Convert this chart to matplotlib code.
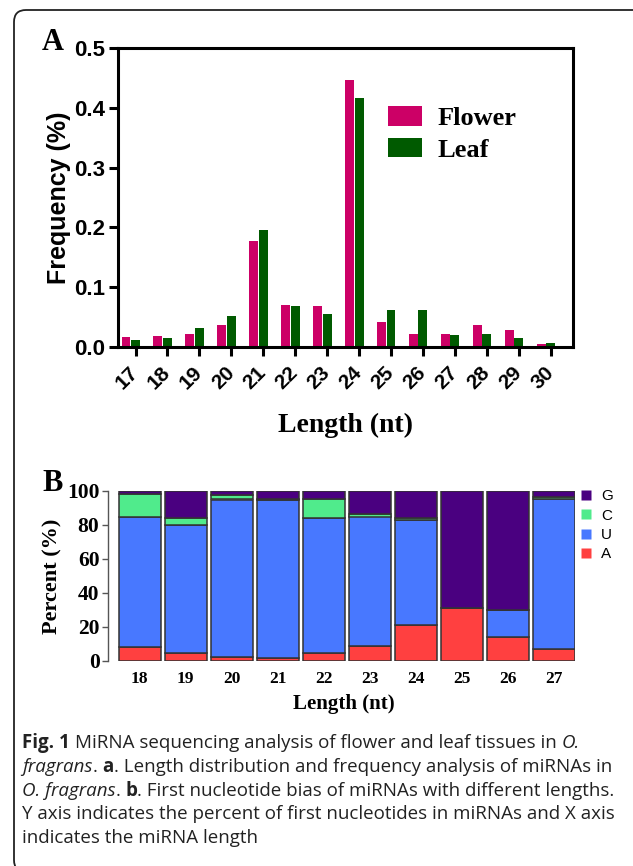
import matplotlib
matplotlib.use('Agg')
import matplotlib.pyplot as plt
import numpy as np
from matplotlib.patches import FancyBboxPatch
from matplotlib.lines import Line2D
from matplotlib.transforms import IdentityTransform

# Panel A: length distribution
lengths_a = ['17', '18', '19', '20', '21', '22', '23', '24', '25', '26', '27', '28', '29', '30']
flower = [0.016, 0.019, 0.021, 0.037, 0.178, 0.070, 0.069, 0.446, 0.042, 0.022, 0.022, 0.036, 0.028, 0.005]
leaf = [0.011, 0.0145, 0.032, 0.0525, 0.1955, 0.069, 0.056, 0.416, 0.0615, 0.0625, 0.0196, 0.022, 0.015, 0.007]

# Panel B: first nucleotide bias (%)
lengths_b = ['18', '19', '20', '21', '22', '23', '24', '25', '26', '27']
pct_A = [8, 5, 2.5, 1.5, 5, 9, 21, 31, 14, 7]
pct_U = [76.5, 75, 92.5, 93, 79, 76, 62, 0, 16, 88.5]
pct_C = [13.5, 4, 2.5, 0.8, 11, 1.5, 1, 0, 0, 1]
pct_G = [2, 16, 2.5, 4.7, 5, 13.5, 16, 69, 70, 3.5]

W, H = 633, 866
fig = plt.figure(figsize=(W / 100, H / 100), dpi=100)

def px_axes(l, t, r, b):
    return fig.add_axes([l / W, 1 - b / H, (r - l) / W, (b - t) / H])

sans = 'Liberation Sans'
serif = 'Liberation Serif'

# ---------- Panel A ----------
axA = px_axes(118, 48, 573, 347)
x = np.arange(len(lengths_a))
axA.bar(x - 0.3, flower, width=0.28, color='#CC0066', label='Flower')
axA.bar(x, leaf, width=0.28, color='#005A00', label='Leaf')
axA.set_xlim(-0.55, 13.7)
axA.set_ylim(0, 0.5)
for s in axA.spines.values():
    s.set_linewidth(2.2)
axA.tick_params(axis='both', direction='out', length=6.5, width=2.2, pad=3)
axA.tick_params(axis='x', pad=10)
axA.set_yticks([0, 0.1, 0.2, 0.3, 0.4, 0.5])
axA.set_yticklabels(['0.0', '0.1', '0.2', '0.3', '0.4', '0.5'], fontfamily=sans,
                    fontweight='bold', fontsize=16)
axA.set_xticks(x)
axA.set_xticklabels(lengths_a, fontfamily=sans, fontweight='bold', fontsize=15,
                    rotation=45, ha='right', va='center', rotation_mode='anchor')
axA.set_ylabel('Frequency (%)', fontfamily=sans, fontweight='bold', fontsize=18, labelpad=2)
axA.set_xlabel('Length (nt)', fontfamily=serif, fontweight='bold', fontsize=20, labelpad=14)
axA.legend(loc='upper left', bbox_to_anchor=(0.593, 0.805), frameon=False,
           prop={'family': serif, 'weight': 'bold', 'size': 19},
           handlelength=1.3, handleheight=0.75, handletextpad=0.6,
           labelspacing=0.3, borderpad=0, borderaxespad=0)

# ---------- Panel B ----------
axB = px_axes(112, 491, 575, 661)
xb = np.arange(len(lengths_b))
colors = {'A': '#FF4040', 'U': '#4878FF', 'C': '#50EB8C', 'G': '#4A0080'}
bottom = np.zeros(len(lengths_b))
for key, vals in [('A', pct_A), ('U', pct_U), ('C', pct_C), ('G', pct_G)]:
    axB.bar(xb, vals, bottom=bottom, width=0.91, color=colors[key],
            edgecolor='#333333', linewidth=1.1)
    bottom += np.array(vals)
axB.set_xlim(-0.6, 9.46)
axB.set_ylim(0, 100)
for k in ['top', 'right', 'bottom']:
    axB.spines[k].set_visible(False)
axB.spines['left'].set_position(('outward', 3))
axB.spines['left'].set_color('#555555')
axB.spines['left'].set_linewidth(1.0)
axB.tick_params(axis='y', length=4, width=1.0, color='#555555', pad=2)
axB.tick_params(axis='x', length=0, pad=7)
axB.set_yticks([0, 20, 40, 60, 80, 100])
axB.set_yticklabels(['0', '20', '40', '60', '80', '100'], fontfamily=serif,
                    fontweight='bold', fontsize=15.5)
axB.set_xticks(xb)
axB.set_xticklabels(lengths_b, fontfamily=serif, fontweight='bold', fontsize=12.5)
axB.set_ylabel('Percent (%)', fontfamily=serif, fontweight='bold', fontsize=16, labelpad=3)
axB.set_xlabel('Length (nt)', fontfamily=serif, fontweight='bold', fontsize=15, labelpad=5)
handles = [Line2D([], [], marker='s', linestyle='none', markersize=7,
                  markerfacecolor=colors[k], markeredgecolor='none', label=k)
           for k in ['G', 'C', 'U', 'A']]
axB.legend(handles=handles, loc='upper left', bbox_to_anchor=(1.01, 1.01), frameon=False,
           prop={'family': sans, 'size': 11}, handlelength=0.8, handletextpad=0.6,
           labelspacing=0.35, borderpad=0, borderaxespad=0)

# panel letters
fig.text(42 / W, 1 - 50 / H, 'A', fontfamily=serif, fontweight='bold', fontsize=22)
fig.text(42 / W, 1 - 491 / H, 'B', fontfamily=serif, fontweight='bold', fontsize=22)

# caption, drawn piece by piece so bold / italic runs sit inline
cap_font = 'Open Sans'
cap_size = 13.5
styles = {'n': {}, 'b': {'fontweight': 'bold'}, 'i': {'fontstyle': 'italic'}}
caption = [
    [('Fig. 1', 'b'), (' MiRNA sequencing analysis of flower and leaf tissues in', 'n'), (' O.', 'i')],
    [('fragrans', 'i'), ('.', 'n'), (' a', 'b'), ('. Length distribution and frequency analysis of miRNAs in', 'n')],
    [('O. fragrans', 'i'), ('.', 'n'), (' b', 'b'), ('. First nucleotide bias of miRNAs with different lengths.', 'n')],
    [('Y axis indicates the percent of first nucleotides in miRNAs and X axis', 'n')],
    [('indicates the miRNA length', 'n')],
]
renderer = fig.canvas.get_renderer()

def text_w(s, st):
    t = fig.text(0, 0, s, fontfamily=cap_font, fontsize=cap_size, **styles[st])
    w = t.get_window_extent(renderer).width
    t.remove()
    return w

space_w = text_w('a a', 'n') - text_w('aa', 'n')
for i, line in enumerate(caption):
    xpos = 22
    ypos = H - (748 + 23.8 * i)
    for seg, st in line:
        n = len(seg) - len(seg.lstrip(' '))
        xpos += n * space_w
        seg = seg.lstrip(' ')
        fig.text(xpos, ypos, seg, transform=IdentityTransform(), fontfamily=cap_font,
                 fontsize=cap_size, color='#222222', va='baseline', **styles[st])
        xpos += text_w(seg, st)

# frame
frame = FancyBboxPatch((14, -6), 660, H - 10 + 6, boxstyle='round,pad=0,rounding_size=12',
                       transform=IdentityTransform(), facecolor='none',
                       edgecolor='#222222', linewidth=1.3)
fig.patches.append(frame)

fig.savefig('out.png', dpi=100)
